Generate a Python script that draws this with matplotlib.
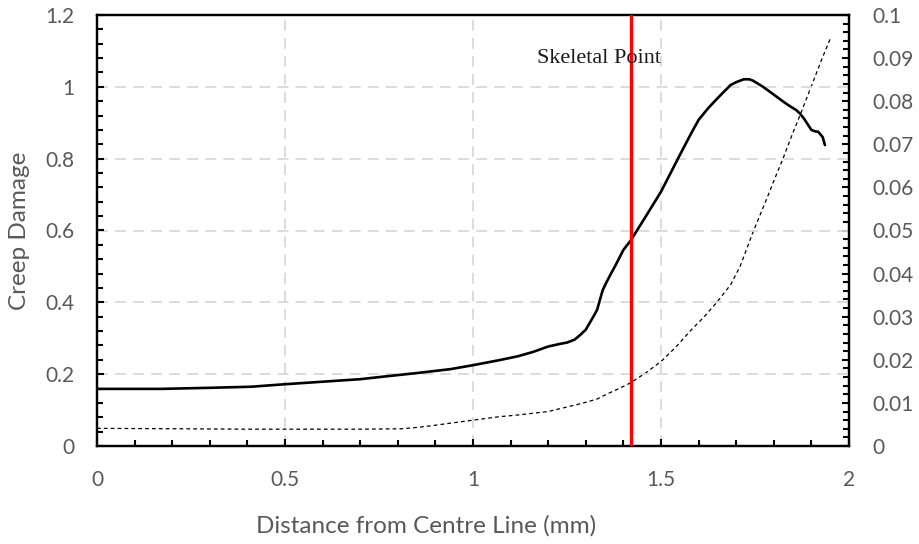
import matplotlib
matplotlib.use("Agg")
import matplotlib.pyplot as plt
from matplotlib.ticker import MultipleLocator, FuncFormatter

# ---- data ----
damage_x = [0, 0.17, 0.30, 0.41, 0.50, 0.70, 0.76, 0.85, 0.94, 1.00, 1.07, 1.12, 1.16,
            1.20, 1.23, 1.25, 1.27, 1.285, 1.30, 1.31, 1.32, 1.33, 1.345, 1.355, 1.365,
            1.38, 1.40, 1.42, 1.46, 1.50, 1.55, 1.58, 1.60, 1.625, 1.65, 1.685, 1.70,
            1.72, 1.735, 1.745, 1.77, 1.79, 1.825, 1.84, 1.86, 1.87, 1.88, 1.90, 1.91,
            1.918, 1.93, 1.936]
damage_y = [0.159, 0.159, 0.162, 0.165, 0.172, 0.186, 0.193, 0.203, 0.214, 0.225, 0.239,
            0.25, 0.262, 0.277, 0.284, 0.288, 0.296, 0.309, 0.324, 0.342, 0.36, 0.379,
            0.434, 0.456, 0.476, 0.505, 0.546, 0.573, 0.64, 0.708, 0.81, 0.87, 0.908,
            0.94, 0.968, 1.005, 1.013, 1.021, 1.021, 1.017, 1.001, 0.986, 0.959, 0.948,
            0.935, 0.925, 0.912, 0.880, 0.876, 0.875, 0.86, 0.838]

strain_x = [0, 0.41, 0.70, 0.81, 0.85, 0.89, 0.94, 1.0, 1.07, 1.12, 1.2, 1.29, 1.33,
            1.36, 1.39, 1.42, 1.46, 1.50, 1.54, 1.58, 1.615, 1.65, 1.685, 1.71, 1.745,
            1.78, 1.80, 1.825, 1.85, 1.87, 1.90, 1.927, 1.952]
strain_y = [0.0041, 0.0039, 0.0039, 0.0040, 0.0043, 0.0047, 0.0053, 0.006, 0.0068,
            0.0072, 0.008, 0.0099, 0.0109, 0.0122, 0.0134, 0.0147, 0.0170, 0.0196,
            0.0230, 0.0269, 0.0300, 0.0335, 0.0374, 0.0416, 0.0497, 0.0571, 0.0615,
            0.0668, 0.0725, 0.0768, 0.0835, 0.0896, 0.0949]

skeletal_x = 1.42
skeletal_label = "Skeletal Point"
xlabel = "Distance from Centre Line (mm)"
ylabel = "Creep Damage"

# ---- figure ----
plt.rcParams['font.family'] = ['Lato', 'DejaVu Sans']
fig = plt.figure(figsize=(9.2, 5.44), dpi=100)
ax = fig.add_axes([97/920, 1-446/544, (849-97)/920, (446-15)/544])
ax2 = ax.twinx()

gray = '#595959'
grid_c = '#d9d9d9'

ax.set_xlim(0, 2)
ax.set_ylim(0, 1.2)
ax2.set_ylim(0, 0.1)

# grid
for gy in [0.2, 0.4, 0.6, 0.8, 1.0]:
    ax.axhline(gy, color=grid_c, lw=1.3, dashes=(6, 4), zorder=0)
for gx in [0.5, 1.0, 1.5]:
    ax.axvline(gx, color=grid_c, lw=1.3, dashes=(6, 4), zorder=0)

ax.plot(damage_x, damage_y, color='black', lw=1.9, zorder=3,
        solid_joinstyle='round', solid_capstyle='round')
ax2.plot(strain_x, strain_y, color='black', lw=0.9, dashes=(3, 2.5), zorder=3,
         dash_joinstyle='round')
ax.axvline(skeletal_x, color='#ff0000', lw=2.4, zorder=4)
ax.text(1.335, 1.08, skeletal_label, family=['Liberation Serif'], fontsize=16,
        color='#1a1a1a', ha='center', va='center', zorder=5)

# ticks
ax.xaxis.set_major_locator(MultipleLocator(0.5))
ax.xaxis.set_minor_locator(MultipleLocator(0.1))
ax.yaxis.set_major_locator(MultipleLocator(0.2))
ax.yaxis.set_minor_locator(MultipleLocator(0.04))
ax2.yaxis.set_major_locator(MultipleLocator(0.01))
ax2.yaxis.set_minor_locator(MultipleLocator(0.002))

fmt = FuncFormatter(lambda v, p: ('%g' % round(v, 4)))
ax.xaxis.set_major_formatter(fmt)
ax.yaxis.set_major_formatter(fmt)
ax2.yaxis.set_major_formatter(fmt)

for a in (ax, ax2):
    a.tick_params(which='both', direction='in', color='black', width=1.5,
                  labelcolor=gray, labelsize=15)
    a.tick_params(which='major', length=5)
    a.tick_params(which='minor', length=4)
ax.tick_params(axis='x', which='both', top=False, pad=17)
ax.tick_params(axis='y', which='both', right=False, pad=16)
ax2.tick_params(axis='y', which='both', pad=17)

for a in (ax, ax2):
    for s in a.spines.values():
        s.set_linewidth(1.6)
        s.set_color('black')

ax.set_xlabel(xlabel, fontsize=17.5, color=gray)
ax.xaxis.set_label_coords(0.4375, -0.16)
ax.set_ylabel(ylabel, fontsize=17.5, color=gray)
ax.yaxis.set_label_coords(-0.089, 0.5)

ax.set_zorder(ax2.get_zorder() + 1)
ax.patch.set_visible(False)

fig.savefig('out.png', dpi=100, facecolor='white')
